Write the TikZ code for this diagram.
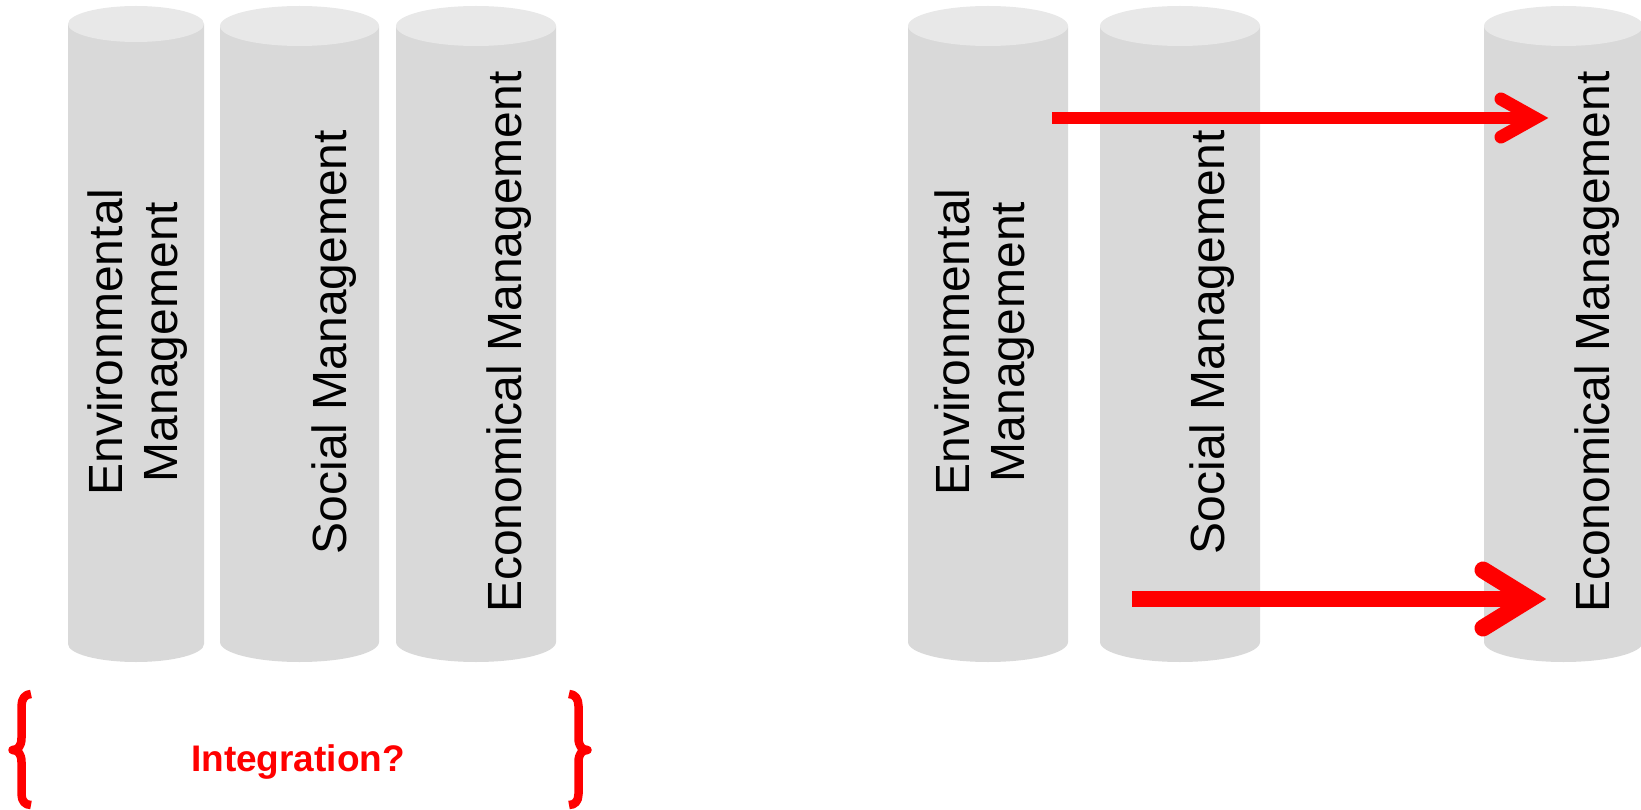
\documentclass[tikz,border=0pt]{standalone}
\usepackage{fontspec}
\setmainfont{Liberation Sans}
\definecolor{cylbody}{HTML}{D9D9D9}
\definecolor{cyltop}{HTML}{E8E8E8}
\definecolor{arrred}{HTML}{FF0000}
\newcommand\DrawCyl[6]{% name, xl, xr, yt, yb, ry
  \fill[cylbody] (#2,-#4) -- (#2,-#5) arc[start angle=180,end angle=360,x radius={((#3-#2)/2)*1pt},y radius={(#6)*1pt}] -- (#3,-#4) -- cycle;
  \fill[cyltop] ({(#2+#3)/2},-#4) ellipse[x radius={((#3-#2)/2)*1pt}, y radius={(#6)*1pt}];
  \coordinate (#1) at ({(#2+#3)/2},{-(#4+#5)/2});
}
\tikzset{
  lbl/.style={rotate=90, anchor=base, font=\fontsize{48}{55}\selectfont, inner sep=0pt, text=black},
  shaftA/.style={draw=arrred, line width=12pt, line cap=butt},
  headA/.style={draw=arrred, line width=13pt, line cap=round, line join=miter},
  shaftB/.style={draw=arrred, line width=16pt, line cap=butt},
  headB/.style={draw=arrred, line width=17pt, line cap=round, line join=miter},
  bracestyle/.style={draw=arrred, line width=8.5pt, line cap=butt, line join=round},
  question/.style={anchor=base, font=\fontsize{37}{44}\selectfont\bfseries, text=arrred, inner sep=0pt}
}
\begin{document}
\begin{tikzpicture}[x=1pt,y=1pt]
\useasboundingbox (0,0) rectangle (1641,-810);
% left group
\DrawCyl{c1}{68}{204}{24}{644}{18}
\DrawCyl{c2}{220}{379}{26}{642}{20}
\DrawCyl{c3}{396}{556}{26}{642}{20}
% right group
\DrawCyl{c4}{908}{1068}{26}{642}{20}
\DrawCyl{c5}{1100}{1260}{26}{642}{20}
\DrawCyl{c6}{1484}{1643}{26}{642}{20}
% labels
\node[lbl] (t1a) at (122,-342) {Environmental};
\node[lbl] (t1b) at (177,-342) {Management};
\node[lbl] (t2) at (346,-342) {Social Management};
\node[lbl] (t3) at (521,-342) {Economical Management};
\node[lbl] (t4a) at (969,-342) {Environmental};
\node[lbl] (t4b) at (1024,-342) {Management};
\node[lbl] (t5) at (1224,-342) {Social Management};
\node[lbl] (t6) at (1609,-342) {Economical Management};
% arrows
\coordinate (a1s) at (1052,-118);
\coordinate (a1e) at (1535,-118);
\draw[shaftA] (a1s) -- (a1e);
\draw[headA] ([shift={(-34,19)}]a1e) -- (a1e) -- ([shift={(-34,-19)}]a1e);
\coordinate (a2s) at (1132,-599);
\coordinate (a2e) at (1530,-599);
\draw[shaftB] (a2s) -- (a2e);
\draw[headB] ([shift={(-47,29)}]a2e) -- (a2e) -- ([shift={(-47,-29)}]a2e);
% braces
\draw[bracestyle] (31,-694) .. controls (25,-694) and (21.5,-699) .. (21.5,-706) -- (21.5,-738) .. controls (21.5,-746) and (18,-750) .. (12.5,-750) .. controls (18,-750) and (21.5,-754) .. (21.5,-762) -- (21.5,-794) .. controls (21.5,-801) and (25,-805) .. (31,-805);
\draw[bracestyle] (569,-694) .. controls (575,-694) and (578.5,-699) .. (578.5,-706) -- (578.5,-738) .. controls (578.5,-746) and (582,-750) .. (587.5,-750) .. controls (582,-750) and (578.5,-754) .. (578.5,-762) -- (578.5,-794) .. controls (578.5,-801) and (575,-805) .. (569,-805);
\node[question] (integ) at (298,-771) {Integration?};
\end{tikzpicture}
\end{document}
